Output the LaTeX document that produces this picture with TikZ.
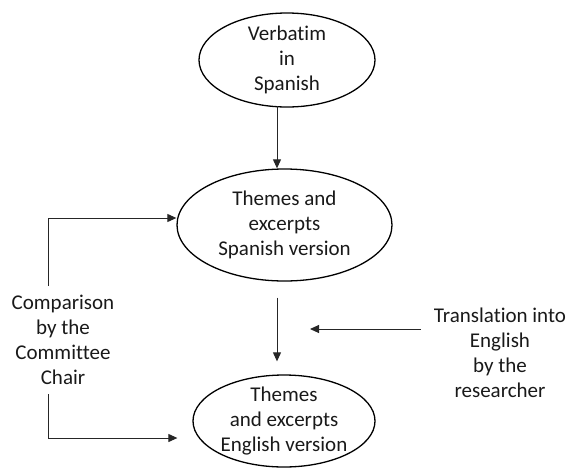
\documentclass[tikz,border=0pt]{standalone}
\usepackage{fontspec}
\setmainfont{Carlito}[Ligatures={NoCommon,NoContextual}]
\usetikzlibrary{arrows.meta,shapes.geometric}

\tikzset{
    oval/.style={draw, ellipse, line width=1.3pt, inner sep=-20pt, align=center},
    note/.style={align=center, inner xsep=0pt},
    arr/.style={-{Triangle[length=9pt,width=8pt]}, line width=1pt, draw=black!85}
}

\begin{document}
\begin{tikzpicture}[x=1pt, y=-1pt, font=\fontsize{21}{25}\selectfont, text=black!90]

    \useasboundingbox (0,0) rectangle (576,467);

    % Ovali (dall'alto in basso)
    \node[oval, minimum width=176pt, minimum height=94pt] (verb) at (287,60) {Verbatim\\in\\Spanish};
    \node[oval, minimum width=215pt, minimum height=112pt] (spa) at (284.5,225) {Themes and\\excerpts\\Spanish version};
    \node[oval, minimum width=182pt, minimum height=92pt] (eng) at (284,421) {Themes\\and excerpts\\English version};

    % Testi laterali
    \node[note, inner ysep=9pt] (chair) at (63,340) {Comparison\\by the\\Committee\\Chair};
    \node[note, inner xsep=13pt] (transl) at (500,353) {Translation into\\English\\by the\\researcher};

    % Estremi liberi delle frecce
    \coordinate (engin) at ([xshift=-15pt,yshift=-17pt]eng.west);
    \coordinate (trin) at (310,329);

    % Frecce verticali centrali
    \draw[arr] (spa.north -| 277,0) ++(0,-62) -- (spa.north -| 277,0);
    \draw[arr, shorten <=16pt, shorten >=13pt] (spa.south -| 277,0) -- (eng.north -| 277,0);

    % Frecce a sinistra (confronto)
    \draw[arr] ([xshift=-15pt]chair.north) |- ([yshift=7pt]spa.west);
    \draw[arr] ([xshift=-15pt]chair.south) |- (engin);

    % Freccia a destra (traduzione)
    \draw[arr] (trin -| transl.west) -- (trin);

\end{tikzpicture}
\end{document}
